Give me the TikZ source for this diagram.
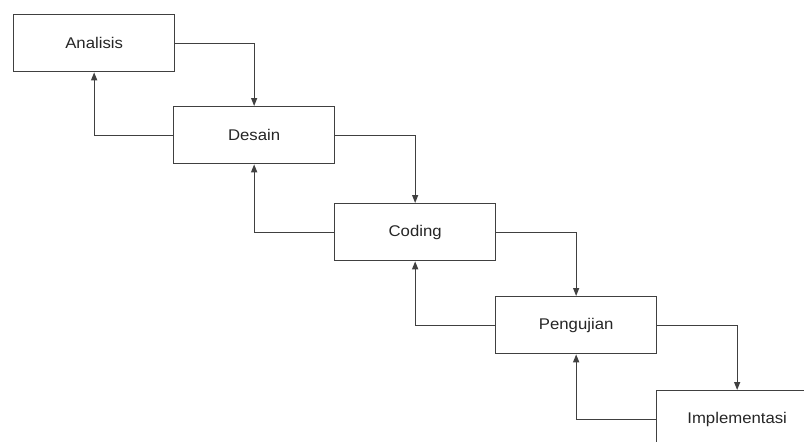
\documentclass[tikz,border=0pt]{standalone}
\usepackage{fontspec}
\setmainfont{Liberation Sans}
\usetikzlibrary{arrows.meta}
\begin{document}
\begin{tikzpicture}[x=1pt,y=-1pt,
  stagebox/.style={draw=black!75, line width=1.3pt, fill=white, minimum width=161pt, minimum height=57pt, anchor=north west, inner sep=0pt,
    font=\fontsize{15.5}{18}\selectfont, text=black!85},
  flow/.style={draw=black!75, line width=1.3pt, -{Stealth[length=8pt,width=6pt,inset=0pt]}}]
\useasboundingbox (0,0) rectangle (804,442);
\clip (0,0) rectangle (804,442);
\node[stagebox] (a) at (13,14) {\scalebox{1.08}[1]{Analisis}};
\node[stagebox] (d) at (173,106) {\scalebox{1.08}[1]{Desain}};
\node[stagebox] (c) at (334,203) {\scalebox{1.08}[1]{Coding}};
\node[stagebox] (p) at (495,296) {\scalebox{1.08}[1]{Pengujian}};
\node[stagebox] (i) at (656,390) {\scalebox{1.08}[1]{Implementasi}};
\draw[flow] (a.east) -| (d.north);
\draw[flow] (d.east) -| (c.north);
\draw[flow] (c.east) -| (p.north);
\draw[flow] (p.east) -| (i.north);
\draw[flow] (d.west) -| (a.south);
\draw[flow] (c.west) -| (d.south);
\draw[flow] (p.west) -| (c.south);
\draw[flow] (i.west) -| (p.south);
\end{tikzpicture}
\end{document}
